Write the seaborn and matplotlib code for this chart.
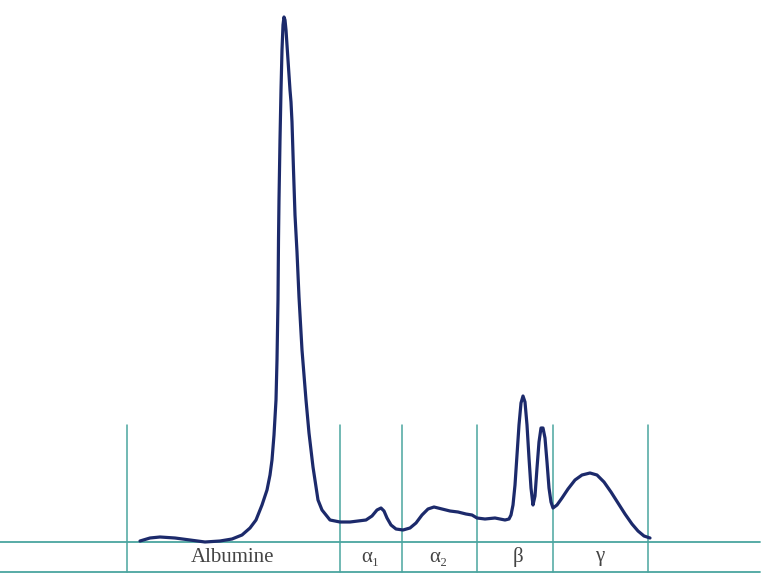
#%% import libraries
import numpy as np
import pandas as pd
import seaborn as sns
import matplotlib
matplotlib.use('Agg')
import matplotlib.pyplot as plt

#%% plot setup
sns.set_style("white")
plt.rcParams['font.family'] = ['Liberation Serif', 'DejaVu Serif']

#%% data: densitometry trace (position along strip, height above baseline)
position = [140, 150, 160, 175, 190, 205, 220, 232, 242, 250, 256, 262, 267, 270,
            272, 274, 276, 277, 278, 278.5, 279, 280, 281, 282, 283, 284, 285, 286,
            288, 290, 291, 292, 293.5, 295, 297, 299, 302, 306, 309, 313, 318, 322, 330,
            340, 350, 358, 366, 372, 377, 381, 384, 387, 391, 396, 403, 410, 416,
            422, 428, 434, 442, 450, 458, 466, 472, 477, 485, 495, 505, 509, 511,
            513, 515, 517, 519, 521, 523, 525, 527, 529, 531, 533, 535, 537, 539,
            541, 543, 545, 547, 549, 551, 553, 557, 562, 568, 575, 582, 590, 597,
            604, 611, 618, 625, 632, 638, 644, 650]
intensity = [1, 4, 5, 4, 2, 0, 1, 3, 7, 14, 22, 37, 52, 67,
             82, 107, 142, 182, 242, 302, 342, 402, 452, 492, 517, 525, 522, 512,
             482, 452, 440, 420, 372, 327, 290, 245, 192, 142, 109, 75, 42, 32, 22,
             20, 20, 21, 22, 26, 32, 34, 31, 24, 17, 13, 12, 14, 19,
             27, 33, 35, 33, 31, 30, 28, 27, 24, 23, 24, 22, 23, 27,
             37, 57, 87, 117, 139, 146, 140, 117, 84, 54, 37, 46, 74, 100,
             114, 114, 104, 80, 54, 40, 34, 37, 44, 53, 62, 67, 69, 67,
             60, 50, 39, 28, 18, 11, 6, 4]

# fraction boundaries and labels
boundaries = [127, 340, 402, 477, 553, 648]
fractions = ['Albumine', 'α₁', 'α₂', 'β', 'γ']
label_pos = [233, 370, 438, 518, 600]

df = pd.DataFrame({'position': position, 'intensity': intensity})

#%% figure
grid_color = '#4aa59f'
fig = plt.figure(figsize=(7.75, 5.85), dpi=100)
ax = fig.add_axes([0, 0, 1, 1])

# baseline and lower rule
ax.axhline(0, xmin=0, xmax=760 / 775, color=grid_color, lw=1.3)
ax.axhline(-30, xmin=0, xmax=760 / 775, color=grid_color, lw=1.3)
for b in boundaries:
    ax.plot([b, b], [-30, 117], color=grid_color, lw=1.1)

sns.lineplot(data=df, x='position', y='intensity', estimator=None, sort=False,
             color='#1c2a6b', lw=2.3, ax=ax)

for name, xp in zip(fractions, label_pos):
    ax.text(xp, -15, name, ha='center', va='center', fontsize=15, color='#444444')

ax.set_xlim(0, 775)
ax.set_ylim(-43, 542)
ax.set_axis_off()

# save figure
fig.savefig('out.png', dpi=100)
